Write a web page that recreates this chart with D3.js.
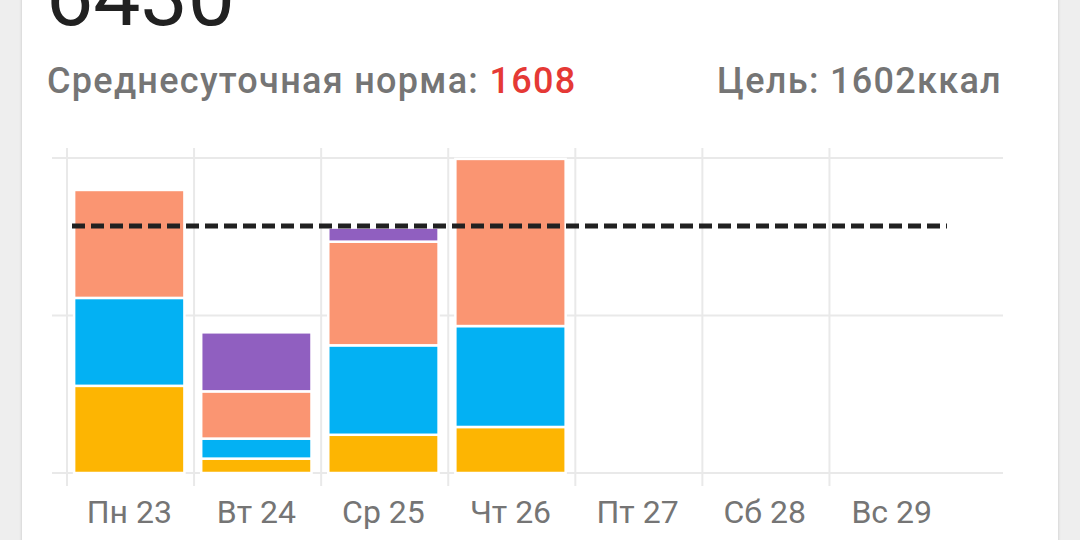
<!DOCTYPE html>
<html>
<head>
<meta charset="utf-8">
<script src="https://cdn.jsdelivr.net/npm/d3@7"></script>
<style>
  html, body { margin: 0; padding: 0; background: #eeeeee; }
  svg { display: block; font-family: Roboto, "Noto Sans", sans-serif; }
</style>
</head>
<body>
<svg id="chart" width="1080" height="540"></svg>
<script>
// days of the week shown on the x axis
var days = ["Пн 23", "Вт 24", "Ср 25", "Чт 26", "Пт 27", "Сб 28", "Вс 29"];

// kcal per meal, one value per day (empty days have no data)
var breakfast = [570, 94, 250, 301, 0, 0, 0];
var lunch     = [575, 131, 585, 660, 0, 0, 0];
var dinner    = [706, 309, 678, 1093, 0, 0, 0];
var snack     = [0, 386, 92, 0, 0, 0, 0];

var meals = ["breakfast", "lunch", "dinner", "snack"];
var mealColors = ["#fdb502", "#03b1f3", "#fa9572", "#905fc0"];

var total = 6430;
var dailyAvg = 1608;
var goal = 1602;
var gridTicks = [0, 1030, 2060];

var svg = d3.select("#chart");

// card background
var defs = svg.append("defs");
var f = defs.append("filter").attr("id", "shadow").attr("x", "-5%").attr("y", "-5%").attr("width", "110%").attr("height", "110%");
f.append("feDropShadow").attr("dx", 0).attr("dy", 1).attr("stdDeviation", 1.5).attr("flood-color", "#000").attr("flood-opacity", 0.18);

svg.append("rect")
    .attr("x", 22).attr("y", -20)
    .attr("width", 1036).attr("height", 600)
    .attr("fill", "#ffffff")
    .attr("filter", "url(#shadow)");

// header (big number is cut by the top edge, like in the screenshot)
svg.append("text")
    .attr("x", 46).attr("y", 25)
    .attr("font-size", 84)
    .attr("fill", "#212121")
    .text(total);

var avgText = svg.append("text")
    .attr("x", 47).attr("y", 93)
    .attr("font-size", 36)
    .attr("font-weight", 500)
    .attr("letter-spacing", 1.3)
    .attr("fill", "#757575");
avgText.append("tspan").text("Среднесуточная норма: ");
avgText.append("tspan").attr("fill", "#e53935").text(dailyAvg);

svg.append("text")
    .attr("x", 1002).attr("y", 93)
    .attr("text-anchor", "end")
    .attr("font-size", 36)
    .attr("font-weight", 500)
    .attr("letter-spacing", 1.3)
    .attr("fill", "#757575")
    .text("Цель: " + goal + "ккал");

// scales
var x = d3.scaleBand()
    .domain(days)
    .range([67, 954])
    .paddingInner(0.132)
    .paddingOuter(0.056);

var y = d3.scaleLinear()
    .domain([0, 2060])
    .range([473, 158]);

// grid
var grid = svg.append("g").attr("class", "grid");

grid.selectAll("line.h")
    .data(gridTicks)
    .enter().append("line")
    .attr("class", "h")
    .attr("x1", 52).attr("x2", 1003)
    .attr("y1", function(d) { return y(d); })
    .attr("y2", function(d) { return y(d); })
    .style("stroke", "#e9e9e9")
    .style("stroke-width", 2);

var step = x.step();
grid.selectAll("line.v")
    .data(days)
    .enter().append("line")
    .attr("class", "v")
    .attr("x1", function(d) { return x(d) - step * x.paddingOuter(); })
    .attr("x2", function(d) { return x(d) - step * x.paddingOuter(); })
    .attr("y1", 148).attr("y2", 486)
    .style("stroke", "#e9e9e9")
    .style("stroke-width", 2);

// stacked bars
var rows = days.map(function(d, i) {
    return { day: d, breakfast: breakfast[i], lunch: lunch[i], dinner: dinner[i], snack: snack[i] };
});
var stacked = d3.stack().keys(meals)(rows);

svg.append("g")
    .selectAll("g")
    .data(stacked)
    .enter().append("g")
    .style("fill", function(d, i) { return mealColors[i]; })
    .selectAll("rect")
    .data(function(d) { return d.filter(function(s) { return s[1] > s[0]; }); })
    .enter().append("rect")
    .attr("x", function(d) { return x(d.data.day); })
    .attr("width", x.bandwidth())
    .attr("y", function(d) { return y(d[1]); })
    .attr("height", function(d) { return y(d[0]) - y(d[1]); })
    .style("stroke", "#ffffff")
    .style("stroke-width", 2.5);

// goal line
svg.append("line")
    .attr("x1", 72).attr("x2", 947)
    .attr("y1", y(goal) - 2).attr("y2", y(goal) - 2)
    .style("stroke", "#212121")
    .style("stroke-width", 5)
    .style("stroke-dasharray", "13,6");

// x labels
svg.append("g")
    .selectAll("text")
    .data(days)
    .enter().append("text")
    .attr("x", function(d) { return x(d) + x.bandwidth() / 2; })
    .attr("y", 523)
    .attr("text-anchor", "middle")
    .attr("font-size", 32)
    .attr("fill", "#757575")
    .text(function(d) { return d; });
</script>
</body>
</html>
